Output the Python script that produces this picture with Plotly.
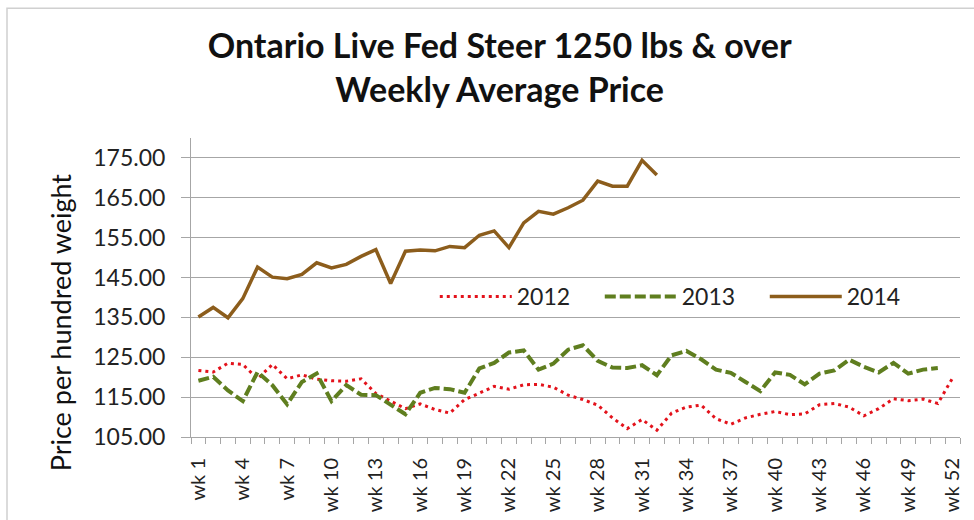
import plotly.graph_objects as go

weeks = list(range(1, 53))
tick_weeks = [1, 4, 7, 10, 13, 16, 19, 22, 25, 28, 31, 34, 37, 40, 43, 46, 49, 52]
tick_labels = ["wk %d" % w for w in tick_weeks]
y_ticks = [105, 115, 125, 135, 145, 155, 165, 175]

price_2012 = [121.7, 121.3, 123.5, 123.2, 119.6, 123.2, 119.6, 120.6, 119.5, 119.1,
              119.0, 119.6, 115.9, 114.0, 112.1, 113.3, 111.9, 111.0, 114.4, 116.0,
              117.7, 117.0, 118.1, 118.2, 117.5, 115.5, 114.4, 113.0, 109.8, 107.1,
              109.4, 106.7, 111.0, 112.5, 113.0, 109.6, 108.2, 109.8, 110.7, 111.4,
              110.6, 110.8, 113.1, 113.4, 112.5, 110.3, 112.1, 114.6, 114.1, 114.5,
              113.4, 119.8]
price_2013 = [119.1, 120.1, 116.7, 114.0, 121.3, 118.0, 113.2, 118.8, 120.9, 114.0,
              118.0, 115.6, 115.5, 113.0, 110.7, 116.1, 117.3, 117.0, 116.1, 122.2,
              123.6, 126.2, 126.7, 121.9, 123.4, 126.9, 128.0, 124.1, 122.4, 122.3,
              123.0, 120.5, 125.5, 126.6, 124.5, 121.9, 121.1, 118.8, 116.5, 121.2,
              120.6, 118.2, 120.9, 121.7, 124.4, 122.6, 121.2, 123.6, 120.9, 121.9,
              122.3]
price_2014 = [135.1, 137.5, 134.9, 139.7, 147.6, 145.1, 144.7, 145.8, 148.7, 147.4,
              148.3, 150.3, 152.0, 143.5, 151.6, 151.9, 151.7, 152.8, 152.5, 155.6,
              156.7, 152.5, 158.7, 161.6, 160.9, 162.5, 164.4, 169.2, 167.9, 167.9,
              174.4, 170.7]

FONT = "Lato"

fig = go.Figure()
fig.add_trace(go.Scatter(x=weeks[:len(price_2012)], y=price_2012, name="2012", mode="lines",
                         line=dict(color="#E3121B", width=3, dash="3px,4px")))
fig.add_trace(go.Scatter(x=weeks[:len(price_2013)], y=price_2013, name="2013", mode="lines",
                         line=dict(color="#5F7E1F", width=4, dash="11px,4px")))
fig.add_trace(go.Scatter(x=weeks[:len(price_2014)], y=price_2014, name="2014", mode="lines",
                         line=dict(color="#8C5D1C", width=3.5)))

fig.update_layout(
    width=974, height=520,
    margin=dict(l=191, r=14, t=138, b=83, autoexpand=False),
    paper_bgcolor="white", plot_bgcolor="white",
    font=dict(family=FONT, color="#222222"),
    title=dict(text="<b>Ontario Live Fed Steer 1250 lbs &amp; over<br>Weekly Average Price</b>",
               x=0.513, xref="container", xanchor="center",
               y=1 - 58 / 520, yref="container", yanchor="middle",
               font=dict(family=FONT, size=34, color="#111111")),
    showlegend=True,
    legend=dict(orientation="h", x=0.317, y=0.47, xanchor="left", yanchor="middle",
                bgcolor="rgba(0,0,0,0)", font=dict(size=23, family=FONT, color="#222222"),
                entrywidth=78, itemwidth=72, traceorder="normal"),
    xaxis=dict(range=[0.5, 52.5], tickmode="array", tickvals=tick_weeks, ticktext=tick_labels,
               tickangle=-90, ticks="", showgrid=False, zeroline=False, automargin=False,
               showline=True, linecolor="#A6A6A6", linewidth=1,
               ticklabelstandoff=12,
               tickfont=dict(size=20, family=FONT, color="#222222"),
               minor=dict(tick0=0.5, dtick=1, ticks="outside", ticklen=6,
                          tickcolor="#A6A6A6", tickwidth=1, showgrid=False)),
    yaxis=dict(range=[105, 180], tickmode="array", tickvals=y_ticks, tickformat=".2f",
               ticks="outside", ticklen=9, tickcolor="#A6A6A6", automargin=False,
               showgrid=True, gridcolor="#A6A6A6", gridwidth=1, zeroline=False,
               showline=True, linecolor="#A6A6A6", linewidth=1,
               ticklabelstandoff=11,
               tickfont=dict(size=23, family=FONT, color="#222222")),
    shapes=[dict(type="rect", xref="paper", yref="paper",
                 x0=(7 - 191) / 769, x1=1.2, y0=-0.6, y1=(436.7 - 8) / 299,
                 line=dict(color="#D0D0D0", width=1.5), fillcolor="rgba(0,0,0,0)", layer="below")],
    annotations=[dict(text="Price per hundred weight", xref="paper", yref="paper",
                      x=(60 - 191) / 769, y=(436.7 - 322) / 299, xanchor="center", yanchor="middle",
                      textangle=-90, showarrow=False,
                      font=dict(size=27, family=FONT, color="#111111"))],
)

fig.write_html("out.html", config={"displayModeBar": False},
               post_script="document.body.style.margin='0';")
